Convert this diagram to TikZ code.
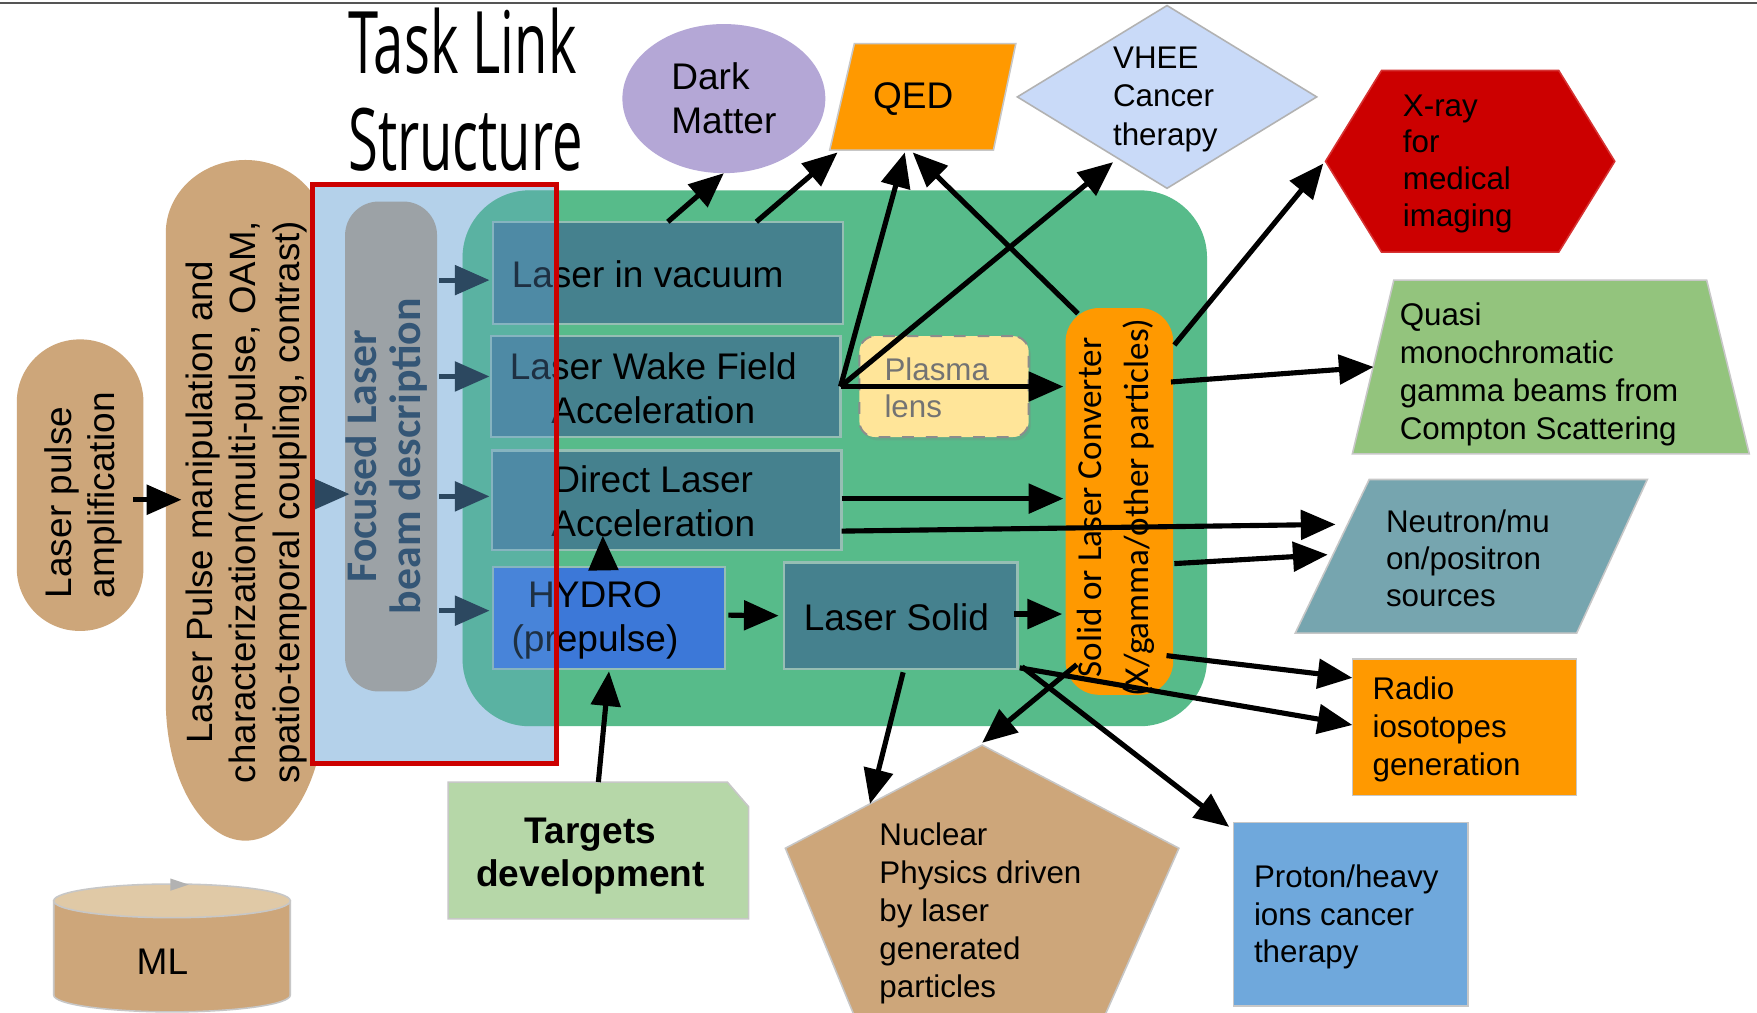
\documentclass[tikz,border=0pt]{standalone}
\usepackage{fontspec}
\usepackage{graphicx}
\setmainfont{Liberation Sans}
\newfontfamily\calfont{Carlito}
\newfontfamily\titlefont{Open Sans}
\usetikzlibrary{arrows.meta,calc,shapes.geometric,shadows}

\definecolor{tanfill}{RGB}{205,166,122}
\definecolor{tanlight}{RGB}{224,201,166}
\definecolor{greenbg}{RGB}{87,187,138}
\definecolor{tealbox}{RGB}{69,129,142}
\definecolor{boxedge}{RGB}{150,190,180}
\definecolor{hydrob}{RGB}{60,120,216}
\definecolor{orangef}{RGB}{255,153,0}
\definecolor{lavenderf}{RGB}{180,167,214}
\definecolor{vheeb}{RGB}{201,218,248}
\definecolor{xred}{RGB}{204,0,0}
\definecolor{quasig}{RGB}{147,196,125}
\definecolor{neutronb}{RGB}{118,165,175}
\definecolor{protonb}{RGB}{111,168,220}
\definecolor{targetg}{RGB}{182,215,168}
\definecolor{plasmay}{RGB}{255,229,153}
\definecolor{focusbg}{RGB}{180,209,234}
\definecolor{tintb}{RGB}{100,160,220}
\definecolor{capgray}{RGB}{156,162,166}
\definecolor{focustxt}{RGB}{52,86,118}
\definecolor{slatearr}{RGB}{44,72,96}
\definecolor{framered}{RGB}{204,0,0}
\definecolor{topline}{RGB}{85,85,85}

\tikzset{
  geo/.style={inner sep=0pt, outer sep=0pt},
  txt/.style={inner sep=0pt, outer sep=0pt, text=black},
  rim/.style={draw=black!22, line width=0.4pt},
  procbox/.style={geo, draw=boxedge, line width=0.6pt, fill=tealbox},
  bigtext/.style={font=\fontsize{9.4}{11.1}\selectfont},
  arr/.style={line width=1.3pt, -{Triangle[length=0.31cm,width=0.26cm]}},
  navyarr/.style={arr, draw=slatearr, fill=slatearr},
}

\begin{document}
\begin{tikzpicture}[x=0.01cm, y=-0.01cm]
\useasboundingbox (0,0) rectangle (1568,904);
\fill[white] (0,0) rectangle (1568,904);
\draw[topline, line width=0.5pt] (0,2.5) -- (1568,2.5);

% ---------- title ----------
\node[anchor=base west, inner sep=0pt] (title-a) at (310,66)
  {\titlefont\fontsize{21.9}{26}\selectfont\scalebox{0.63}[1]{Task Link}};
\node[anchor=base west, inner sep=0pt] (title-b) at (310,152)
  {\titlefont\fontsize{21.9}{26}\selectfont\scalebox{0.63}[1]{Structure}};

% ---------- laser chain on the left ----------
\node[geo, fill=tanfill, rounded corners=0.56cm, minimum width=1.13cm, minimum height=2.6cm] (amp) at (71.5,433) {};
\node[txt, rotate=90, align=left, font=\fontsize{9.4}{10.8}\selectfont] (amp-t) at (74.5,442)
  {Laser pulse\\amplification};

\node[geo, minimum width=1.42cm, minimum height=6.07cm] (manip) at (219,446.5) {};
\fill[tanfill] ([shift={(0,65)}]manip.north west)
  arc[start angle=180, end angle=0, x radius=0.71cm, y radius=0.65cm]
  -- ([shift={(0,-125)}]manip.south east)
  arc[start angle=0, end angle=-180, x radius=0.71cm, y radius=1.25cm] -- cycle;
\node[txt, rotate=90, align=center, font=\fontsize{9.3}{11.1}\selectfont] (manip-t) at (220,448)
  {Laser Pulse manipulation and\\characterization(multi-pulse, OAM,\\spatio-temporal coupling, contrast)};

% focused-beam panel (background)
\node[geo, minimum width=2.18cm, minimum height=5.16cm] (focus) at (388,423) {};
\fill[focusbg] (focus.north west) rectangle (focus.south east);

% ---------- central interaction block ----------
\node[geo, fill=greenbg, rounded corners=0.6cm, minimum width=6.64cm, minimum height=4.78cm] (core) at (745,409) {};

\node[procbox, minimum width=3.12cm, minimum height=0.91cm] (lvac) at (596,243.5) {};
\node[txt, bigtext] (lvac-t) at (578,245) {Laser in vacuum};

\node[procbox, minimum width=3.12cm, minimum height=0.90cm] (lwfa) at (594,345) {};
\node[txt, bigtext, align=center] (lwfa-t) at (583,346.5) {Laser Wake Field\\Acceleration};

\node[procbox, minimum width=3.12cm, minimum height=0.89cm] (dla) at (595,446.5) {};
\node[txt, bigtext, align=center] (dla-t) at (583,447.5) {Direct Laser\\Acceleration};

\node[procbox, fill=hydrob, minimum width=2.07cm, minimum height=0.91cm] (hydro) at (543.5,551.5) {};
\node[txt, bigtext, align=center] (hydro-t) at (531,554) {HYDRO\\(prepulse)};

\node[procbox, minimum width=2.08cm, minimum height=0.95cm] (lsolid) at (804,549.5) {};
\node[txt, bigtext] (lsolid-t) at (800,551) {Laser Solid};

\node[geo, fill=plasmay, draw=black!45, dashed, line width=0.5pt, rounded corners=0.14cm,
      drop shadow={shadow xshift=0.02cm, shadow yshift=-0.03cm, opacity=0.25},
      minimum width=1.51cm, minimum height=0.9cm] (plasma) at (842.5,345) {};
\node[txt, text=black!55, align=left, font=\fontsize{7.95}{9.4}\selectfont] (plasma-t) at (836,346.5) {Plasma\\lens};

\node[geo, fill=orangef, rounded corners=0.3cm, minimum width=0.96cm, minimum height=3.45cm] (conv) at (999,447.5) {};
\node[txt, rotate=90, align=center, font=\calfont\fontsize{8.9}{12}\selectfont] (conv-t) at (996,453)
  {Solid or Laser Converter\\(X/gamma/other particles)};

% tint of the focused-beam panel over the block
\begin{scope}
  \clip (focus.north west) rectangle (focus.south east);
  \fill[tintb, opacity=0.3, rounded corners=0.6cm] (core.north west) rectangle (core.south east);
\end{scope}

% focused laser beam description
\node[geo, fill=capgray, rounded corners=0.3cm, minimum width=0.82cm, minimum height=4.37cm] (beam) at (349,398.5) {};
\node[txt, rotate=90, align=center, text=focustxt, font=\calfont\bfseries\fontsize{11.1}{11.2}\selectfont] (beam-t) at (345,407)
  {Focused Laser\\beam description};

\draw[framered, line width=1.28pt] (focus.north west) rectangle (focus.south east);

% ---------- applications ----------
\node[geo, ellipse, fill=lavenderf, minimum width=1.81cm, minimum height=1.33cm] (dm) at (646,88) {};
\node[txt, bigtext, align=left] (dm-t) at (646,87.5) {Dark\\Matter};

\node[geo, minimum width=1.66cm, minimum height=0.95cm] (qed) at (823.5,86.5) {};
\filldraw[fill=orangef, rim] ([shift={(22,0)}]qed.north west) -- (qed.north east)
  -- ([shift={(-20,0)}]qed.south east) -- (qed.south west) -- cycle;
\node[txt, bigtext] (qed-t) at (815,88) {QED};

\node[geo, minimum width=2.67cm, minimum height=1.63cm] (vhee) at (1041.5,86.5) {};
\filldraw[fill=vheeb, draw=black!30, line width=0.4pt] (vhee.north) -- (vhee.east) -- (vhee.south) -- (vhee.west) -- cycle;
\node[txt, align=left, font=\fontsize{7.95}{9.8}\selectfont] (vhee-t) at (1040,88.5) {VHEE\\Cancer\\therapy};

\node[geo, minimum width=2.58cm, minimum height=1.62cm] (xray) at (1312,144) {};
\filldraw[fill=xred, draw=xred!80!white, line width=0.4pt] (xray.west) -- ([shift={(50,0)}]xray.north west)
  -- ([shift={(-50,0)}]xray.north east) -- (xray.east)
  -- ([shift={(-50,0)}]xray.south east) -- ([shift={(50,0)}]xray.south west) -- cycle;
\node[txt, align=left, font=\fontsize{7.95}{9.3}\selectfont] (xray-t) at (1301,146) {X-ray\\for\\medical\\imaging};

\node[geo, minimum width=3.54cm, minimum height=1.55cm] (quasi) at (1384,327.5) {};
\filldraw[fill=quasig, rim] ([shift={(37,0)}]quasi.north west) -- ([shift={(-38,0)}]quasi.north east)
  -- (quasi.south east) -- (quasi.south west) -- cycle;
\node[txt, align=left, font=\fontsize{7.95}{9.67}\selectfont] (quasi-t) at (1373.5,334)
  {Quasi\\monochromatic\\gamma beams from\\Compton Scattering};

\node[geo, minimum width=3.14cm, minimum height=1.37cm] (neutron) at (1313,496.5) {};
\filldraw[fill=neutronb, rim] ([shift={(66,0)}]neutron.north west) -- (neutron.north east)
  -- ([shift={(-63,0)}]neutron.south east) -- (neutron.south west) -- cycle;
\node[txt, align=left, font=\fontsize{7.95}{9.4}\selectfont] (neutron-t) at (1310,498)
  {Neutron/mu\\on/positron\\sources};

\node[geo, fill=orangef, rim, minimum width=2.0cm, minimum height=1.22cm] (radio) at (1307,649) {};
\node[txt, align=left, font=\fontsize{7.95}{9.67}\selectfont] (radio-t) at (1291,651)
  {Radio\\iosotopes\\generation};

\node[geo, fill=protonb, rim, minimum width=2.09cm, minimum height=1.64cm] (proton) at (1205.5,816) {};
\node[txt, align=left, font=\fontsize{7.95}{9.5}\selectfont] (proton-t) at (1201.5,818.5)
  {Proton/heavy\\ions cancer\\therapy};

\node[geo, minimum width=3.51cm, minimum height=2.5cm] (nuclear) at (876.5,790) {};
\coordinate (nuc-ul) at ([shift={(0,-33)}]nuclear.west);
\filldraw[fill=tanfill, rim] (nuclear.north) -- ([shift={(0,-33)}]nuclear.east)
  -- ([shift={(-70,0)}]nuclear.south east) -- ([shift={(65,0)}]nuclear.south west)
  -- (nuc-ul) -- cycle;
\node[txt, align=left, font=\fontsize{7.95}{9.67}\selectfont] (nuclear-t) at (875,815)
  {Nuclear\\Physics driven\\by laser\\generated\\particles};

\node[geo, minimum width=2.68cm, minimum height=1.22cm] (targets) at (534,759) {};
\filldraw[fill=targetg, rim] (targets.north west) -- ([shift={(-19,0)}]targets.north east)
  -- ([shift={(0,22)}]targets.north east) -- (targets.south east) -- (targets.south west) -- cycle;
\node[txt, align=center, font=\bfseries\fontsize{9.4}{10.8}\selectfont] (targets-t) at (527,764)
  {Targets\\development};

% machine-learning store
\node[geo, minimum width=2.11cm, minimum height=1.14cm] (ml) at (153.5,846) {};
\filldraw[fill=tanfill, rim] ([shift={(0,15)}]ml.north west) -- ([shift={(0,-15)}]ml.south west)
  arc[start angle=180, end angle=360, x radius=1.055cm, y radius=0.15cm]
  -- ([shift={(0,15)}]ml.north east) -- cycle;
\filldraw[fill=tanlight, rim] ([shift={(0,15)}]ml.north) ellipse [x radius=1.055cm, y radius=0.15cm];
\fill[black!30] ([shift={(-1.5,-5)}]ml.north) -- ([shift={(-1.5,6)}]ml.north) -- ([shift={(15,0.5)}]ml.north) -- cycle;
\node[txt, bigtext] (ml-t) at (145,858) {ML};

% ---------- connectors ----------
\draw[arr] ([shift={(-9,13)}]amp.east) -- ([shift={(14,-0.5)}]manip.west);

\draw[navyarr] ([shift={(-9,-5.5)}]manip.east) -- ([shift={(4,42.5)}]beam.west);
\draw[navyarr] ([shift={(2,-148.5)}]beam.east) -- ([shift={(-3,6.5)}]lvac.west);
\draw[navyarr] ([shift={(2,-62.5)}]beam.east) -- ([shift={(-1,-9)}]lwfa.west);
\draw[navyarr] ([shift={(2,44.5)}]beam.east) -- ([shift={(-2,-3.5)}]dla.west);
\draw[navyarr] ([shift={(2,146.5)}]beam.east) -- ([shift={(-3,-6.5)}]hydro.west);

\draw[arr] (lvac.north) -- (dm.south);
\draw[arr] ([shift={(79,0)}]lvac.north) -- ([shift={(7,2)}]qed.south west);
\draw[arr] (lwfa.east) -- ([shift={(-16,2)}]qed.south);
\draw[arr] (lwfa.east) -- ($(vhee.west)!0.64!(vhee.south)+(0,6)$);
\draw[arr] (lwfa.east) -- ([shift={(-2,-102.5)}]conv.west);
\draw[arr] ([shift={(11,5)}]conv.north west) -- ([shift={(-9,2)}]qed.south);
\draw[arr] ([shift={(1,33)}]conv.north east) -- ([shift={(-2,2)}]xray.west);
\draw[arr] ([shift={(-2,66)}]conv.north east) -- ([shift={(19,0)}]quasi.west);
\draw[arr] ([shift={(0,-1.5)}]dla.east) -- ([shift={(-2,-2.5)}]conv.west);
\draw[arr] ([shift={(0,27.5)}]dla.east) -- ([shift={(36,-28.5)}]neutron.west);
\draw[arr] ([shift={(1,55.5)}]conv.east) -- ([shift={(29,-1.5)}]neutron.west);
\draw[arr] ([shift={(-5,0)}]hydro.north) -- ([shift={(-57,-13)}]dla.south);
\draw[arr] (targets.north) -- ([shift={(0,2)}]hydro.south);
\draw[arr] ([shift={(3,-2.5)}]hydro.east) -- ([shift={(-5,0)}]lsolid.west);
\draw[arr] ([shift={(-3,-1.5)}]lsolid.east) -- ([shift={(-3,100.5)}]conv.west);
\draw[arr] ([shift={(2,3)}]lsolid.south) -- ($(nuclear.north)!0.57!(nuc-ul)$);
\draw[arr] ([shift={(10,-27)}]conv.south west) -- ([shift={(0,-2)}]nuclear.north);
\draw[arr] ([shift={(4,-2)}]lsolid.south east) -- ([shift={(-4,4)}]proton.north west);
\draw[arr] ([shift={(2,-1)}]lsolid.south east) -- ([shift={(0,-2)}]radio.west);
\draw[arr] ([shift={(-6,-35)}]conv.south east) -- ([shift={(0,17)}]radio.north west);
\end{tikzpicture}
\end{document}
